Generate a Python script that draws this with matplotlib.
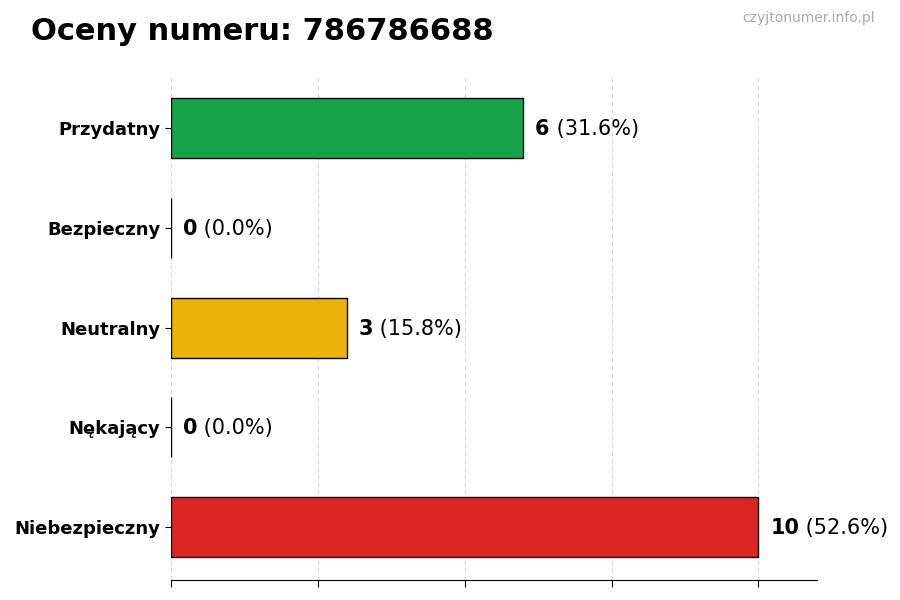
import matplotlib
matplotlib.use("Agg")
import matplotlib.pyplot as plt

categories = ["Przydatny", "Bezpieczny", "Neutralny", "Nękający", "Niebezpieczny"]
counts = [6, 0, 3, 0, 10]
colors = ["#16a34a", "#16a34a", "#eab308", "#dc2626", "#dc2626"]
number = "786786688"

total = sum(counts)
fig = plt.figure(figsize=(9, 6), dpi=100)
ax = fig.add_axes([0.19, 0.033, 0.718, 0.842])

ypos = list(range(len(categories)))[::-1]
ax.barh(ypos, counts, height=0.6, color=colors, edgecolor="black", linewidth=1, zorder=3)
ax.set_yticks(ypos)
ax.set_yticklabels(categories, fontsize=13, fontweight="bold")
ax.set_xlim(0, 11)
ax.set_xticks([0, 2.5, 5, 7.5, 10])
ax.set_xticklabels([])
ax.tick_params(axis="x", length=5)
ax.tick_params(axis="y", length=4)
ax.grid(axis="x", linestyle=(0, (4, 3)), color="#d8d8d8", linewidth=0.8, zorder=0)
for s in ["top", "right", "left"]:
    ax.spines[s].set_visible(False)

for y, c in zip(ypos, counts):
    pct = 100.0 * c / total
    t1 = ax.text(c + 0.2, y - 0.01, f"{c}", fontsize=15, fontweight="bold", va="center", ha="left")
    ax.annotate(f" ({pct:.1f}%)", xy=(1, 0), xycoords=t1, va="bottom", ha="left", fontsize=15)

fig.text(0.034, 0.948, f"Oceny numeru: {number}", fontsize=22, fontweight="bold", va="center", ha="left")
fig.text(0.972, 0.97, "czyjtonumer.info.pl", fontsize=10, color="#aaaaaa", va="center", ha="right")

fig.savefig("out.png", dpi=100)
